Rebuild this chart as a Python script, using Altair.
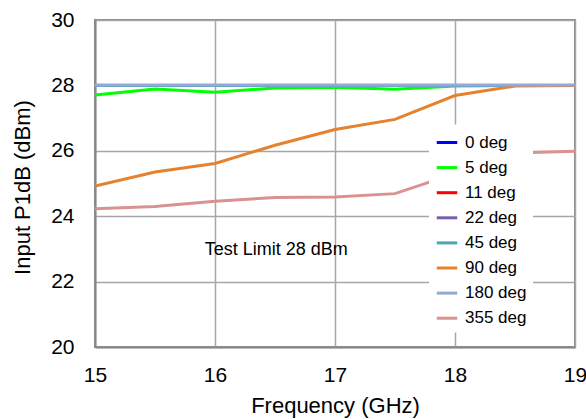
import altair as alt
import pandas as pd

freq = [15, 15.5, 16, 16.5, 17, 17.5, 18, 18.5, 19]
series_names = ["0 deg", "5 deg", "11 deg", "22 deg", "45 deg", "90 deg", "180 deg", "355 deg"]
colors = ["#0000FF", "#00FF00", "#FF0000", "#7B5FA6", "#4BA3BE", "#E5822F", "#93A9D6", "#D99290"]
widths = [3, 3, 3, 2, 2, 2, 2, 2]

p0 = [28.0, 28.0, 28.0, 28.0, 28.0, 28.0, 28.0, 28.0, 28.0]
p5 = [27.71, 27.89, 27.79, 27.92, 27.94, 27.88, 27.98, 28.0, 28.0]
p11 = [28.0, 28.0, 28.0, 28.0, 28.0, 28.0, 28.0, 28.0, 28.0]
p22 = [28.0, 28.0, 28.0, 28.0, 28.0, 28.0, 28.0, 28.0, 28.0]
p45 = [28.0, 28.0, 28.0, 28.0, 28.0, 28.0, 28.0, 28.0, 28.0]
p90 = [24.92, 25.35, 25.61, 26.17, 26.65, 26.96, 27.69, 27.98, 28.0]
p180 = [28.01, 28.01, 28.01, 28.01, 28.01, 28.01, 28.01, 28.01, 28.01]
p355 = [24.23, 24.3, 24.46, 24.57, 24.59, 24.69, 25.3, 25.93, 25.99]

all_series = [p0, p5, p11, p22, p45, p90, p180, p355]

rows = []
for name, vals in zip(series_names, all_series):
    for f, v in zip(freq, vals):
        rows.append({"freq": f, "p1db": v, "series": name})
df = pd.DataFrame(rows)

annot = pd.DataFrame({"freq": [16.51], "p1db": [22.97], "label": ["Test Limit 28 dBm"]})

FONT = "Liberation Sans"

lines = alt.Chart(df).mark_line(clip=True).encode(
    x=alt.X("freq:Q", scale=alt.Scale(domain=[15, 19], nice=False),
            axis=alt.Axis(values=[15, 16, 17, 18, 19], title="Frequency (GHz)", format="d",
                          labelFlush=False)),
    y=alt.Y("p1db:Q", scale=alt.Scale(domain=[20, 30], nice=False),
            axis=alt.Axis(values=[20, 22, 24, 26, 28, 30], title="Input P1dB (dBm)",
                          titleY=167, labelFlush=False)),
    color=alt.Color("series:N", scale=alt.Scale(domain=series_names, range=colors),
                    legend=alt.Legend(title=None, orient="none", legendX=334, legendY=104.5,
                                      fillColor="white", padding=6, symbolType="stroke",
                                      symbolSize=420, symbolStrokeWidth=3,
                                      labelFont=FONT, labelFontSize=17,
                                      labelColor="black", rowPadding=5.1, labelOffset=6,
                                      labelLimit=200)),
    strokeWidth=alt.StrokeWidth("series:N", scale=alt.Scale(domain=series_names, range=widths),
                                legend=None),
    order=alt.Order("freq:Q"),
)

text = alt.Chart(annot).mark_text(font=FONT, fontSize=18, color="black").encode(
    x="freq:Q", y="p1db:Q", text="label:N"
)

chart = (lines + text).properties(
    width=480, height=327,
    autosize=alt.AutoSizeParams(type="none"),
    padding={"left": 95, "top": 20, "right": 11, "bottom": 72},
).configure_axis(
    labelFont=FONT, labelFontSize=21, labelColor="black",
    titleFont=FONT, titleFontSize=22, titleColor="black", titleFontWeight="normal",
    grid=True, gridColor="#A6A6A6", gridWidth=1.5,
    domainColor="#888888", domainWidth=2, ticks=False,
).configure_axisX(labelPadding=17, titlePadding=10).configure_axisY(
    labelPadding=21, titlePadding=16
).configure_view(stroke="#888888", strokeWidth=2)

chart.save("out.html", embed_options={"renderer": "svg", "actions": False})
